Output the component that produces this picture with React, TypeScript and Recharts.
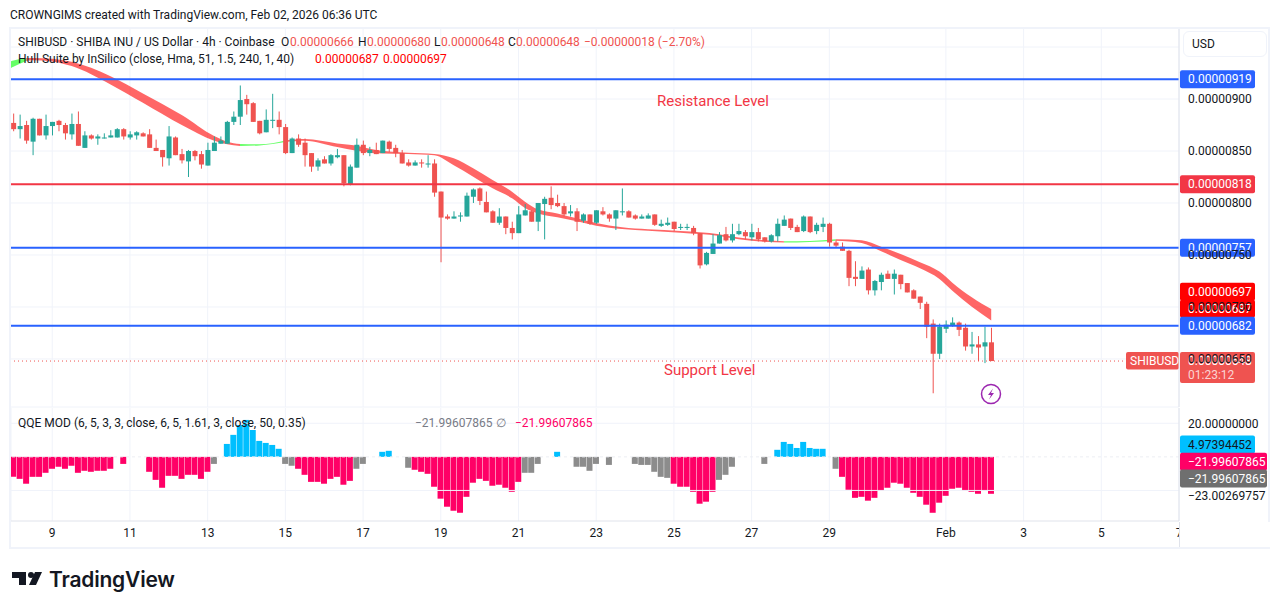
import { Area, Bar, CartesianGrid, Cell, ComposedChart, ReferenceLine, XAxis, YAxis } from "recharts";

// prices are in units of 0.00000001 USD, one entry per 4h bar
const opens = [
  877, 871, 875, 859, 881, 865, 874, 879, 875, 866,
  876, 853, 865, 862, 862, 863, 863, 871, 863, 865,
  867, 866, 853, 851, 843, 863, 847, 840, 850, 847,
  836, 850, 857, 857, 878, 883, 900, 896, 879, 868,
  879, 880, 873, 848, 862, 858, 848, 835, 842, 838,
  844, 846, 818, 834, 856, 848, 851, 848, 859, 853,
  848, 839, 836, 839, 837, 838, 811, 787, 785, 787,
  787, 806, 814, 801, 792, 781, 787, 776, 771, 788,
  792, 782, 799, 805, 800, 797, 790, 792, 783, 789,
  781, 792, 789, 785, 791, 792, 788, 785, 785, 789,
  778, 779, 782, 776, 776, 776, 771, 741, 751, 761,
  770, 764, 770, 772, 767, 772, 767, 763, 768, 778,
  785, 777, 773, 787, 773, 777, 780, 762, 758, 754,
  729, 727, 736, 716, 724, 732, 727, 731, 723, 716,
  710, 703, 684, 655, 679, 682, 685, 680, 662, 664,
  662, 666,
];
const highs = [
  886, 885, 879, 882, 881, 885, 878, 880, 877, 886,
  888, 869, 866, 866, 867, 870, 872, 872, 869, 869,
  868, 871, 861, 851, 874, 864, 852, 851, 851, 850,
  858, 864, 864, 879, 888, 913, 904, 897, 879, 890,
  905, 888, 876, 863, 866, 862, 848, 843, 845, 847,
  852, 846, 837, 862, 860, 854, 858, 860, 860, 856,
  851, 842, 841, 842, 846, 842, 811, 789, 792, 791,
  810, 814, 815, 811, 793, 795, 787, 782, 797, 799,
  793, 800, 806, 816, 808, 800, 798, 795, 790, 789,
  793, 796, 790, 793, 814, 793, 789, 789, 790, 789,
  784, 786, 782, 780, 780, 778, 771, 753, 770, 772,
  777, 780, 780, 774, 780, 776, 767, 770, 785, 788,
  785, 779, 788, 787, 781, 786, 781, 764, 762, 755,
  744, 739, 738, 726, 733, 735, 736, 731, 723, 717,
  710, 705, 688, 684, 687, 690, 686, 684, 676, 672,
  681, 680,
];
const lows = [
  869, 862, 857, 846, 865, 861, 865, 869, 861, 861,
  855, 853, 861, 856, 862, 863, 863, 861, 861, 861,
  864, 853, 850, 835, 836, 846, 838, 825, 841, 833,
  836, 850, 857, 857, 875, 875, 885, 878, 866, 868,
  872, 866, 847, 848, 854, 835, 830, 831, 838, 836,
  843, 816, 817, 834, 846, 845, 847, 848, 849, 844,
  838, 835, 836, 834, 834, 806, 743, 784, 785, 782,
  787, 800, 798, 791, 781, 779, 770, 765, 771, 788,
  782, 773, 765, 794, 796, 787, 787, 773, 781, 779,
  780, 788, 782, 774, 788, 786, 784, 785, 785, 778,
  777, 778, 773, 774, 774, 769, 737, 740, 751, 761,
  763, 762, 769, 765, 764, 763, 762, 762, 763, 778,
  774, 772, 772, 771, 770, 772, 758, 757, 754, 720,
  720, 727, 712, 711, 716, 727, 712, 717, 714, 708,
  698, 670, 617, 650, 675, 681, 672, 658, 655, 648,
  646, 648,
];
const closes = [
  871, 874, 860, 881, 865, 874, 878, 875, 867, 876,
  855, 865, 862, 864, 863, 865, 871, 864, 866, 868,
  864, 853, 850, 844, 864, 846, 841, 850, 845, 837,
  851, 858, 860, 878, 883, 899, 895, 878, 867, 880,
  880, 873, 848, 862, 856, 846, 835, 841, 838, 846,
  846, 819, 835, 856, 848, 851, 847, 860, 852, 848,
  838, 836, 839, 838, 838, 810, 786, 785, 787, 788,
  807, 813, 802, 791, 781, 787, 776, 771, 789, 793,
  782, 800, 804, 798, 797, 789, 792, 782, 789, 780,
  793, 789, 785, 793, 792, 786, 785, 787, 788, 779,
  780, 781, 775, 777, 777, 771, 740, 752, 761, 769,
  764, 770, 773, 768, 772, 765, 763, 769, 780, 784,
  776, 772, 787, 772, 779, 780, 762, 759, 754, 728,
  727, 735, 716, 725, 731, 727, 732, 722, 714, 708,
  704, 681, 655, 681, 683, 685, 678, 662, 664, 661,
  666, 648,
];

// Hull Suite band, read at the bars listed in hullBars
const hullBars = [-1, 0, 2, 3, 6, 9, 15, 20, 26, 31, 33, 35, 38, 42, 45, 50, 53, 56, 61, 65, 68, 71, 74, 77, 79, 81, 84, 87, 90, 94, 98, 103, 106, 109, 112, 116, 119, 123, 127, 131, 134, 137, 140, 143, 145, 148, 151];
const hullUpper = [935, 937, 939.5, 939.5, 938.7, 935.8, 922, 905.4, 884.6, 864.4, 859, 856.7, 856.4, 860.2, 861.5, 857.3, 855.1, 851, 848.4, 847.1, 843, 833.3, 822.1, 810.9, 801.3, 793.9, 790, 785.3, 780.8, 776.6, 774.7, 773.1, 771.8, 769.9, 766.7, 764.1, 763.2, 763.5, 765.1, 764.1, 758, 751, 743, 734, 723.4, 709.3, 698];
const hullLower = [928, 931, 936.5, 937.4, 936.2, 931.7, 914, 896.4, 875, 859.9, 856.4, 854.8, 855.4, 858.6, 859.9, 853.8, 850.3, 847.8, 847.1, 845.8, 836.2, 825.3, 814.1, 804.5, 795.2, 790, 786.2, 782.4, 778.2, 775, 773.4, 771.5, 770.2, 768.3, 765.1, 762.8, 761.9, 762.5, 763.8, 761.6, 753.5, 745.2, 737.2, 727, 715.7, 700.3, 687];
const hullSegments = [
  { from: -1, to: 2, color: "#00ff00" },
  { from: 2, to: 35, color: "#ff0000" },
  { from: 35, to: 42, color: "#00ff00" },
  { from: 42, to: 119, color: "#ff0000" },
  { from: 119, to: 127, color: "#00ff00" },
  { from: 127, to: 151, color: "#ff0000" },
];

const qqe = [
  -11.9, -13.1, -16, -11.9, -11.9, -9.5, -7.1, -5.9, -7.1, -5.3,
  -9.5, -8.3, -8.9, -8.3, -8.3, -7.1, null, -4.2, null, null,
  null, -8.9, -13.7, -18.4, -11.3, -11.3, -13.1, -10.7, -10.7, -13.1,
  -8.9, -4.2, null, 7.7, 13.1, 19, 22, 16, 9.5, 8.3,
  7.1, 4.8, -4.2, -5.3, -7.1, -10.7, -14.9, -14.9, -16, -13.1,
  -11.9, -16.6, -14.3, -7.1, -4.2, null, null, 3, 3.6, null,
  null, -6.5, -7.7, -8.9, -10.1, -17.8, -24.9, -29.7, -32.1, -33.3,
  -23.8, -15.4, -13.1, -14.3, -17.2, -16.6, -18.4, -20.8, -14.9, -9.5,
  -9.5, -4.2, null, null, 3, null, null, -5.9, -5.9, -8.3,
  -4.2, null, -4.8, null, null, null, -4.2, -4.8, -4.8, -8.9,
  -11.9, -12.5, -16, -17.8, -17.8, -20.8, -27.9, -26.7, -20.8, -13.7,
  -10.7, -5.9, null, null, null, null, -4.2, null, 4.2, 8.9,
  7.7, 5.3, 8.9, 5.3, 4.8, 4.8, null, -7.1, -11.9, -19.6,
  -24.4, -23.8, -26.1, -24.4, -20.2, -18.4, -15.4, -16, -18.4, -21.4,
  -23.8, -28.5, -33.3, -27.3, -23.2, -19, -18.4, -20.2, -20.8, -22,
  -20.2, -22,
];
const qqeGrayBars = [31, 42, 43, 53, 54, 61, 79, 80, 81, 87, 88, 89, 90, 92, 96, 97, 98, 99, 100, 101, 109, 110, 111, 116, 127];

const dayTicks = [6, 18, 30, 42, 54, 66, 78, 90, 102, 114, 126, 144, 156, 168, 180];
const dayLabels = ["9", "11", "13", "15", "17", "19", "21", "23", "25", "27", "29", "Feb", "3", "5", "7"];
const priceTicks = [650, 700, 750, 800, 850, 900, 950];

const xDomain = [-0.37, 180];
const GREEN = "#26a69a";
const RED = "#ef5350";
const BLUE_LINE = "#2962ff";
const RED_LINE = "#f23645";
const GRID = "#f0f3fa";
const EDGE = "#e0e3eb";
const TEXT = "#131722";
const PINK = "#ff0066";
const FONT = "Roboto, sans-serif";

const rows = [];
for (let i = -1; i < opens.length; i++) {
  const k = hullBars.indexOf(i);
  rows.push({
    i,
    open: opens[i],
    high: highs[i],
    low: lows[i],
    close: closes[i],
    hullHi: k >= 0 ? hullUpper[k] : null,
    hullLo: k >= 0 ? hullLower[k] : null,
  });
}
const qqeRows = qqe.map((value, i) => ({ i, value }));

const qqeColor = (value: number | null, i: number) => {
  if (qqeGrayBars.includes(i)) return "#8c8c8c";
  return value !== null && value > 0 ? "#00bfff" : PINK;
};

const priceLabel = (v: number) => (v / 1e8).toFixed(8);

function Candle(props: any) {
  const { x, y, width, height, payload } = props;
  if (payload.open === undefined) return null;
  const { open, high, low, close } = payload;
  const perUnit = height / (high - low);
  const top = y + (high - Math.max(open, close)) * perUnit;
  const bodyH = Math.max(Math.abs(open - close) * perUnit, 1);
  const color = close >= open ? GREEN : RED;
  const mid = x + width / 2;
  return (
    <g>
      <line x1={mid} x2={mid} y1={y} y2={y + height} stroke={color} strokeWidth={1} />
      <rect x={x} y={top} width={width} height={bodyH} fill={color} />
    </g>
  );
}

function PriceTag(props: any) {
  const { viewBox, text, fill, color = "#fff", shift = 0, width = 75 } = props;
  const x = viewBox.x + viewBox.width + 1;
  const y = viewBox.y + shift;
  return (
    <g>
      <rect x={x} y={y - 9} width={width} height={18} rx={2} fill={fill} />
      <text x={x + 8} y={y + 4.2} fontSize={12} fill={color}>
        {text}
      </text>
    </g>
  );
}

function LastPriceTag(props: any) {
  const { viewBox } = props;
  const x = viewBox.x + viewBox.width;
  const y = viewBox.y;
  return (
    <g>
      <rect x={x - 53} y={y - 9} width={53} height={17.5} rx={2} fill={RED} />
      <text x={x - 49} y={y + 4} fontSize={12} fill="#fff">
        SHIBUSD
      </text>
      <rect x={x + 1} y={y - 9} width={75} height={31} rx={2} fill={RED} />
      <text x={x + 9} y={y + 4} fontSize={12} fill="#fff">
        {priceLabel(648)}
      </text>
      <text x={x + 9} y={y + 18} fontSize={12} fill="#fff" fillOpacity={0.75}>
        01:23:12
      </text>
    </g>
  );
}

function Plain({ left, top, color = TEXT, size = 12, children }: any) {
  return (
    <div style={{ position: "absolute", left, top, color, fontSize: size, lineHeight: "16px", whiteSpace: "nowrap" }}>
      {children}
    </div>
  );
}

function PriceChart() {
  return (
    <ComposedChart
      width={1281}
      height={408}
      data={rows}
      margin={{ top: 28, right: 0, bottom: 1, left: 11 }}
      style={{ position: "absolute", left: 0, top: 0 }}
    >
      <CartesianGrid stroke={GRID} verticalValues={dayTicks} />
      <XAxis dataKey="i" type="number" domain={xDomain} ticks={dayTicks} allowDataOverflow hide />
      <YAxis
        orientation="right"
        width={102}
        domain={[603.8, 968.3]}
        allowDataOverflow
        ticks={priceTicks}
        interval={0}
        tickFormatter={priceLabel}
        axisLine={{ stroke: EDGE }}
        tickLine={false}
        tickSize={0}
        tickMargin={9}
        tick={{ fill: TEXT, fontSize: 12 }}
      />
      <Bar dataKey={(d: any) => [d.low, d.high]} barSize={5} shape={Candle} isAnimationActive={false} />
      <ReferenceLine y={919} stroke={BLUE_LINE} strokeWidth={2} label={<PriceTag text={priceLabel(919)} fill={BLUE_LINE} />} />
      <ReferenceLine y={818} stroke={RED_LINE} strokeWidth={2} label={<PriceTag text={priceLabel(818)} fill={RED_LINE} />} />
      <ReferenceLine y={757} stroke={BLUE_LINE} strokeWidth={2} label={<PriceTag text={priceLabel(757)} fill={BLUE_LINE} />} />
      <ReferenceLine y={697} stroke="none" label={<PriceTag text={priceLabel(697)} fill="#ff0000" shift={-18.4} />} />
      <ReferenceLine y={687} stroke="none" label={<PriceTag text={priceLabel(687)} fill="#ff0000" shift={-11.8} />} />
      <ReferenceLine y={682} stroke={BLUE_LINE} strokeWidth={2} label={<PriceTag text={priceLabel(682)} fill={BLUE_LINE} />} />
      <ReferenceLine y={648} stroke={RED} strokeDasharray="1 3" label={<LastPriceTag />} />
      {hullSegments.map((seg) => (
        <Area
          key={seg.from}
          dataKey={(d: any) => (d.hullHi !== null && d.i >= seg.from && d.i <= seg.to ? [d.hullLo, d.hullHi] : null)}
          type="monotone"
          connectNulls
          stroke="none"
          fill={seg.color}
          fillOpacity={0.6}
          dot={false}
          activeDot={false}
          isAnimationActive={false}
        />
      ))}
    </ComposedChart>
  );
}

function QqeChart() {
  return (
    <ComposedChart
      width={1281}
      height={548 - 408}
      data={qqeRows}
      margin={{ top: 0, right: 0, bottom: 0, left: 11 }}
      style={{ position: "absolute", left: 0, top: 408 }}
    >
      <CartesianGrid stroke={GRID} horizontal={false} />
      <XAxis
        dataKey="i"
        type="number"
        domain={xDomain}
        allowDataOverflow
        ticks={dayTicks}
        interval={0}
        height={27}
        tickFormatter={(v: number) => dayLabels[dayTicks.indexOf(v)]}
        axisLine={{ stroke: EDGE }}
        tickLine={false}
        tickSize={0}
        tickMargin={7}
        tick={{ fill: TEXT, fontSize: 12 }}
      />
      <YAxis
        orientation="right"
        width={102}
        domain={[-38.2, 29.1]}
        allowDataOverflow
        ticks={[20]}
        tickFormatter={(v: number) => v.toFixed(8)}
        axisLine={{ stroke: EDGE }}
        tickLine={false}
        tickSize={0}
        tickMargin={9}
        tick={{ fill: TEXT, fontSize: 12 }}
      />
      <ReferenceLine y={20} stroke={GRID} />
      <ReferenceLine y={-20} stroke={GRID} />
      <Bar dataKey="value" barSize={6} isAnimationActive={false}>
        {qqeRows.map((r) => (
          <Cell key={r.i} fill={qqeColor(r.value, r.i)} />
        ))}
      </Bar>
      <ReferenceLine y={0} stroke="#eceef3" strokeDasharray="3 3" />
      <ReferenceLine y={4.97394452} stroke="none" label={<PriceTag text="4.97394452" fill="#00bfff" color={TEXT} shift={-4} />} />
      <ReferenceLine y={-21.99607865} stroke="none" label={<PriceTag text="−21.99607865" fill={PINK} width={87} shift={-32} />} />
      <ReferenceLine y={-21.99607865} stroke="none" label={<PriceTag text="−21.99607865" fill="#6f6f6f" width={87} shift={-15.4} />} />
      <ReferenceLine y={-23.00269757} stroke="none" label={<PriceTag text="−23.00269757" fill="none" color={TEXT} width={87} />} />
    </ComposedChart>
  );
}

export default function App() {
  return (
    <div style={{ position: "absolute", left: 0, top: 0, width: 1281, height: 609, background: "#fff", fontFamily: FONT, overflow: "hidden" }}>
      <Plain left={10} top={7}>CROWNGIMS created with TradingView.com, Feb 02, 2026 06:36 UTC</Plain>
      <PriceChart />
      <QqeChart />

      <div style={{ position: "absolute", left: 9, top: 27, width: 1261, height: 522, border: `2px solid ${GRID}`, boxSizing: "border-box" }} />
      <div style={{ position: "absolute", left: 1179, top: 522, width: 90, height: 25, background: "#fff", borderLeft: `1px solid ${EDGE}` }} />
      <div style={{ position: "absolute", left: 1183, top: 31, width: 84, height: 26, background: "#fff", border: `1px solid ${GRID}`, borderRadius: 6, boxSizing: "border-box", fontSize: 12, lineHeight: "24px", paddingLeft: 8, color: TEXT }}>
        USD
      </div>

      <Plain left={18} top={34}>SHIBUSD · SHIBA INU / US Dollar · 4h · Coinbase</Plain>
      <Plain left={281} top={34}>O</Plain>
      <Plain left={290} top={34} color={RED}>0.00000666</Plain>
      <Plain left={358} top={34}>H</Plain>
      <Plain left={367} top={34} color={RED}>0.00000680</Plain>
      <Plain left={434} top={34}>L</Plain>
      <Plain left={441} top={34} color={RED}>0.00000648</Plain>
      <Plain left={508} top={34}>C</Plain>
      <Plain left={516} top={34} color={RED}>0.00000648</Plain>
      <Plain left={584} top={34} color={RED}>−0.00000018 (−2.70%)</Plain>
      <Plain left={18} top={51}>Hull Suite by InSilico (close, Hma, 51, 1.5, 240, 1, 40)</Plain>
      <Plain left={315} top={51} color="#ff0000">0.00000687</Plain>
      <Plain left={383} top={51} color="#ff0000">0.00000697</Plain>

      <Plain left={657} top={93} color={RED_LINE} size={15}>Resistance Level</Plain>
      <Plain left={664} top={362} color={RED_LINE} size={15}>Support Level</Plain>

      <Plain left={18} top={415}>QQE MOD (6, 5, 3, 3, close, 6, 5, 1.61, 3, close, 50, 0.35)</Plain>
      <Plain left={415} top={415} color="#787b86">−21.99607865</Plain>
      <Plain left={496} top={415} color="#787b86">∅</Plain>
      <Plain left={515} top={415} color={PINK}>−21.99607865</Plain>

      <svg width={24} height={24} style={{ position: "absolute", left: 979, top: 382 }}>
        <circle cx={12} cy={12} r={9.5} fill="#fff" stroke="#9c27b0" strokeWidth={1.5} />
        <path d="M14 6.5 9 13h3l-2 4.5 5-6.5h-3z" fill="#9c27b0" />
      </svg>

      <svg width={32} height={16} style={{ position: "absolute", left: 11, top: 571 }}>
        <path d="M1 1h14v13H8V7H1z" fill="#131722" />
        <circle cx={20} cy={4} r={3} fill="#131722" />
        <path d="M24 1h7l-6 13h-7z" fill="#131722" />
      </svg>
      <div style={{ position: "absolute", left: 49, top: 566, fontFamily: "Inter, sans-serif", fontWeight: 600, fontSize: 21, lineHeight: "28px", color: TEXT, letterSpacing: -0.2 }}>
        TradingView
      </div>
    </div>
  );
}
